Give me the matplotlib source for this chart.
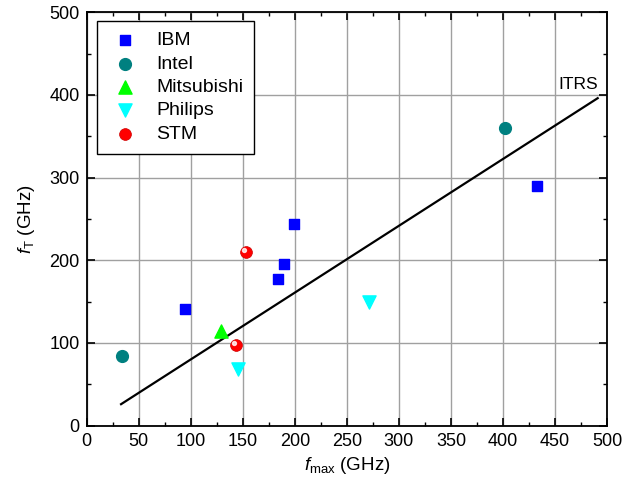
import numpy as np
import matplotlib
matplotlib.use('Agg')
import matplotlib.pyplot as plt
from matplotlib.ticker import MultipleLocator

plt.rcParams['font.family'] = ['Liberation Sans', 'DejaVu Sans']
plt.rcParams['mathtext.fontset'] = 'custom'
plt.rcParams['mathtext.rm'] = 'Liberation Sans'
plt.rcParams['mathtext.it'] = 'Liberation Sans:italic'

# fmax, fT in GHz
ibm_fmax = [94, 184, 190, 199, 433]
ibm_ft = [141, 177, 195, 244, 290]
intel_fmax = [34, 402]
intel_ft = [84, 360]
mitsu_fmax = [129]
mitsu_ft = [115]
philips_fmax = [145, 271]
philips_ft = [68, 149]
stm_fmax = [143, 153]
stm_ft = [97, 210]

itrs_fmax = [33, 491]
itrs_ft = [26, 396]

fig = plt.figure(figsize=(6.33, 4.97), dpi=100)
ax = fig.add_axes([0.137, 0.1435, 0.822, 0.832])

ax.plot(itrs_fmax, itrs_ft, '-', color='black', lw=1.6, zorder=3)
ax.text(491, 404, 'ITRS', ha='right', va='bottom', fontsize=12.5)

ax.scatter(ibm_fmax, ibm_ft, marker='s', s=62, color='#0000ff', zorder=4, label='IBM')
ax.scatter(intel_fmax, intel_ft, marker='o', s=72, color='#008080', zorder=4, label='Intel')
ax.scatter(mitsu_fmax, mitsu_ft, marker='^', s=90, color='#00ff00', zorder=4, label='Mitsubishi')
ax.scatter(philips_fmax, philips_ft, marker='v', s=90, color='#00ffff', zorder=4, label='Philips')
ax.scatter(stm_fmax, stm_ft, marker='o', s=72, color='#ff0000', edgecolor='#cc0000',
           lw=0.5, zorder=4, label='STM')
# little highlight on the STM spheres
ax.scatter(np.array(stm_fmax) - 1.5, np.array(stm_ft) + 2.5, marker='o', s=8,
           color='white', alpha=0.8, zorder=5)

ax.set_xlim(0, 500)
ax.set_ylim(0, 500)
ax.xaxis.set_major_locator(MultipleLocator(50))
ax.xaxis.set_minor_locator(MultipleLocator(25))
ax.yaxis.set_major_locator(MultipleLocator(100))
ax.yaxis.set_minor_locator(MultipleLocator(50))
ax.tick_params(which='both', direction='in', top=True, right=True, labelsize=13)
ax.tick_params(which='major', length=6, width=1.2, pad=5)
ax.tick_params(which='minor', length=3, width=1.0)
for sp in ax.spines.values():
    sp.set_linewidth(1.3)
ax.grid(True, which='major', color='#a0a0a0', lw=1.0)
ax.set_axisbelow(True)

ax.set_xlabel(r'$f_\mathrm{max}$ (GHz)', fontsize=13.5, labelpad=4)
ax.set_ylabel(r'$f_\mathrm{T}$ (GHz)', fontsize=13.5, labelpad=9)

leg = ax.legend(loc='upper left', bbox_to_anchor=(0.019, 0.979), borderaxespad=0,
                fontsize=14, frameon=True, fancybox=False, edgecolor='black',
                framealpha=1, handlelength=1.8, handletextpad=0.7, borderpad=0.55,
                labelspacing=0.3, scatterpoints=1)
leg.get_frame().set_linewidth(1.0)

fig.savefig('out.png', dpi=100)
